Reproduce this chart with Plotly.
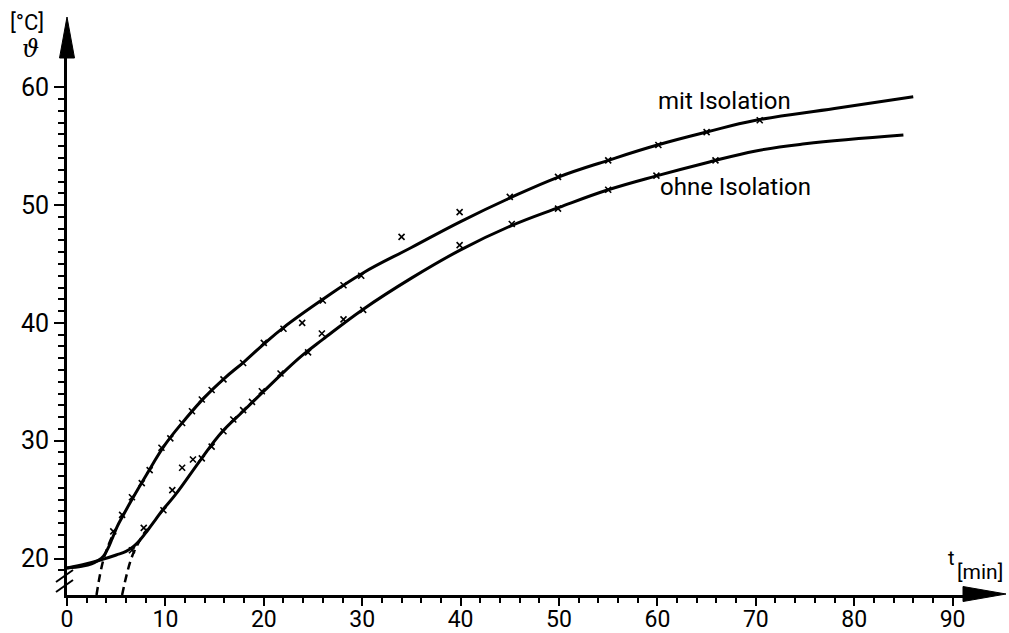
import plotly.graph_objects as go

# ---- data ----
# smooth curves (time in min, temperature in °C)
mit_t = [0, 1.5, 2.5, 3.2, 3.7, 4.1, 4.6, 5.1, 5.6, 6.6, 8, 10, 12, 14, 16, 18, 20, 22, 26, 30, 35, 40, 45, 50, 55,
         60, 65, 70, 78, 86]
mit_T = [19.2, 19.35, 19.55, 19.85, 20.2, 20.75, 21.7, 22.7, 23.5, 25.0, 27.0, 29.7, 31.8, 33.7, 35.3, 36.7, 38.2,
         39.6, 42.0, 44.2, 46.4, 48.6, 50.6, 52.4, 53.8, 55.1, 56.2, 57.2, 58.2, 59.2]

ohne_t = [0, 2.0, 3.7, 5.0, 6.0, 6.8, 7.5, 8.2, 9.0, 9.8, 11.0, 13.6, 15.7, 17.9, 20, 22, 24, 26, 30, 35, 40, 45, 50,
          55, 60, 65, 70, 75, 85]
ohne_T = [19.2, 19.55, 19.95, 20.3, 20.6, 21.05, 21.65, 22.4, 23.3, 24.2, 25.4, 28.4, 30.7, 32.5, 34.2, 35.8, 37.3,
          38.6, 41.1, 43.8, 46.2, 48.2, 49.8, 51.3, 52.5, 53.6, 54.6, 55.2, 55.95]

# measured points
mit_pt_t = [4.7, 5.6, 6.6, 7.6, 8.4, 9.6, 10.5, 11.7, 12.7, 13.7, 14.7, 15.9, 17.9, 20.0, 22.0, 23.9, 26.0, 28.1,
            29.9, 34.0, 39.9, 45.0, 49.9, 55.0, 60.1, 65.0, 70.4]
mit_pt_T = [22.3, 23.7, 25.2, 26.4, 27.5, 29.4, 30.2, 31.5, 32.5, 33.5, 34.3, 35.2, 36.6, 38.3, 39.5, 40.0, 41.9, 43.2,
            44.0, 47.3, 49.4, 50.7, 52.4, 53.8, 55.1, 56.2, 57.2]

ohne_pt_t = [6.6, 7.8, 9.8, 10.7, 11.7, 12.8, 13.7, 14.7, 15.9, 16.9, 17.9, 18.8, 19.8, 21.7, 24.5, 25.9, 28.1, 30.1,
             39.9, 45.2, 49.9, 55.0, 59.9, 65.9]
ohne_pt_T = [20.7, 22.6, 24.1, 25.8, 27.7, 28.4, 28.5, 29.5, 30.8, 31.8, 32.6, 33.3, 34.2, 35.7, 37.5, 39.1, 40.3, 41.1,
             46.6, 48.4, 49.7, 51.3, 52.5, 53.8]

# extrapolation (dashed) lines
dash1_t = [3.0, 3.7, 4.7]
dash1_T = [16.9, 19.9, 22.1]
dash2_t = [5.6, 6.6, 7.8, 8.2]
dash2_T = [16.9, 20.15, 22.1, 22.5]

x_ticks = [0, 10, 20, 30, 40, 50, 60, 70, 80, 90]
x_minor = [t for t in range(2, 92, 2)]
y_ticks = [20, 30, 40, 50, 60]
y_minor = [v for v in range(19, 61)]

labels = ["mit Isolation", "ohne Isolation"]

FONT = "Roboto, DejaVu Sans, sans-serif"

# ---- layout geometry (pixels) ----
W, H = 1009, 633
L, R, T_, B = 67, 965, 55, 595          # plot area edges
def px(x):
    return (x - L) / (R - L)
def py(y):
    return (B - y) / (B - T_)

fig = go.Figure()

line_style = dict(color="black", width=3, shape="spline", smoothing=1.2)
fig.add_trace(go.Scatter(x=mit_t, y=mit_T, mode="lines", line=line_style, name=labels[0], showlegend=False))
fig.add_trace(go.Scatter(x=ohne_t, y=ohne_T, mode="lines", line=line_style, name=labels[1], showlegend=False))

dash_style = dict(color="black", width=2.5, dash="8px,5px", shape="spline")
fig.add_trace(go.Scatter(x=dash1_t, y=dash1_T, mode="lines", line=dash_style, showlegend=False))
fig.add_trace(go.Scatter(x=dash2_t, y=dash2_T, mode="lines", line=dash_style, showlegend=False))

mk = dict(symbol="x-thin", size=6, color="black", line=dict(color="black", width=1.6))
fig.add_trace(go.Scatter(x=mit_pt_t, y=mit_pt_T, mode="markers", marker=mk, showlegend=False))
fig.add_trace(go.Scatter(x=ohne_pt_t, y=ohne_pt_T, mode="markers", marker=mk, showlegend=False))

x_range = [0, (R - L) / 9.84]
y_range = [20 + (558.5 - B) / 11.78, 20 + (558.5 - T_) / 11.78]

fig.update_layout(
    width=W, height=H,
    margin=dict(l=L, r=W - R, t=T_, b=H - B, pad=0, autoexpand=False),
    paper_bgcolor="white", plot_bgcolor="white",
    font=dict(family=FONT, color="black", size=24),
    xaxis=dict(range=x_range, showgrid=False, zeroline=False, showline=True, linecolor="black", linewidth=3,
               automargin=False,
               tickmode="array", tickvals=x_ticks, ticktext=[str(v) for v in x_ticks],
               ticks="outside", ticklen=8, tickwidth=2, tickcolor="black", ticklabelstandoff=-7,
               tickfont=dict(family=FONT, size=23, color="black"),
               minor=dict(tickmode="array", tickvals=x_minor, ticks="outside", ticklen=5, tickwidth=2,
                          tickcolor="black", showgrid=False)),
    yaxis=dict(range=y_range, showgrid=False, zeroline=False, showline=True, linecolor="black", linewidth=3,
               automargin=False,
               tickmode="array", tickvals=y_ticks, ticktext=[str(v) for v in y_ticks],
               ticks="outside", ticklen=10, tickwidth=2, tickcolor="black",
               tickfont=dict(family=FONT, size=25, color="black"),
               minor=dict(tickmode="array", tickvals=y_minor, ticks="outside", ticklen=6, tickwidth=2,
                          tickcolor="black", showgrid=False)),
)

# arrowheads and axis break
shapes = [
    dict(type="path", xref="paper", yref="paper",
         path=f"M {px(67)},{py(17)} L {px(74.5)},{py(58)} L {px(59.5)},{py(58)} Z",
         fillcolor="black", line=dict(color="black", width=1)),
    dict(type="path", xref="paper", yref="paper",
         path=f"M {px(1006)},{py(594)} L {px(963)},{py(586.5)} L {px(963)},{py(601.5)} Z",
         fillcolor="black", line=dict(color="black", width=1)),
    dict(type="line", xref="paper", yref="paper", x0=px(56), y0=py(582), x1=px(73), y1=py(570),
         line=dict(color="black", width=2)),
    dict(type="line", xref="paper", yref="paper", x0=px(56), y0=py(592), x1=px(73), y1=py(580),
         line=dict(color="black", width=2)),
]
fig.update_layout(shapes=shapes)

ann = [
    dict(x=59.9, y=58.8, xref="x", yref="y", text=labels[0], showarrow=False, xanchor="left", yanchor="middle",
         font=dict(family=FONT, size=24, color="black")),
    dict(x=60.1, y=51.56, xref="x", yref="y", text=labels[1], showarrow=False, xanchor="left", yanchor="middle",
         font=dict(family=FONT, size=24, color="black")),
    dict(x=px(27), y=py(23), xref="paper", yref="paper", text="[°C]", showarrow=False,
         xanchor="center", yanchor="middle", font=dict(family=FONT, size=22, color="black")),
    dict(x=px(30), y=py(49), xref="paper", yref="paper", text="<i>ϑ</i>", showarrow=False,
         xanchor="center", yanchor="middle", font=dict(family="DejaVu Serif, serif", size=24, color="black")),
    dict(x=px(951), y=py(558), xref="paper", yref="paper", text="t", showarrow=False,
         xanchor="center", yanchor="middle", font=dict(family=FONT, size=20, color="black")),
    dict(x=px(980), y=py(572), xref="paper", yref="paper", text="[min]", showarrow=False,
         xanchor="center", yanchor="middle", font=dict(family=FONT, size=21, color="black")),
]
fig.update_layout(annotations=ann)

fig.write_html("out.html", config={"displayModeBar": False},
               post_script="document.body.style.margin='0';document.body.style.overflow='hidden';")
